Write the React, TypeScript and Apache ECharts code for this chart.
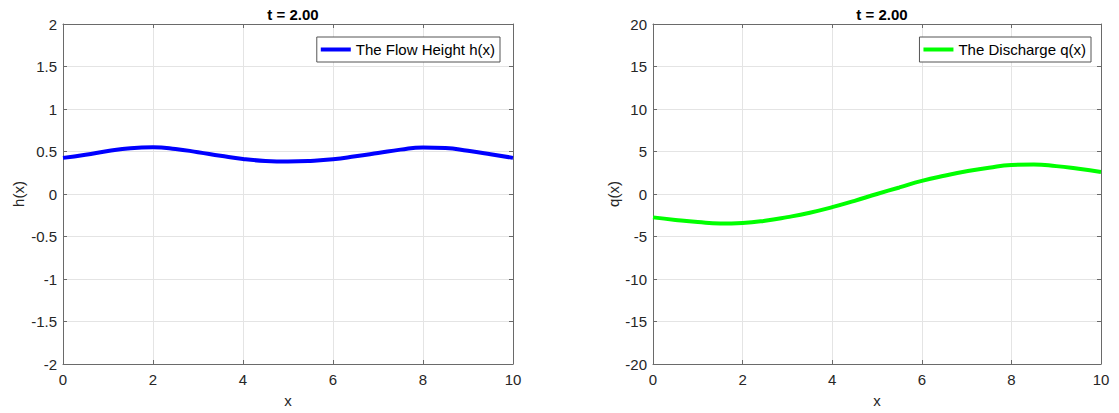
import React, { useEffect, useRef } from "react";
import * as echarts from "echarts";

const xs = [0, 0.5, 1, 1.5, 2, 2.5, 3, 3.5, 4, 4.5, 5, 5.5, 6, 6.5, 7, 7.5, 8, 8.5, 9, 9.5, 10];
const hValues = [0.425, 0.462, 0.505, 0.538, 0.549, 0.53, 0.492, 0.45, 0.412, 0.389, 0.382, 0.389, 0.408, 0.443, 0.482, 0.522, 0.548, 0.542, 0.508, 0.468, 0.425];
const qValues = [-2.75, -3.05, -3.3, -3.46, -3.4, -3.15, -2.72, -2.2, -1.55, -0.8, 0, 0.77, 1.54, 2.15, 2.67, 3.1, 3.42, 3.48, 3.28, 2.96, 2.6];
const titleText = "t = 2.00";
const hName = "The Flow Height h(x)";
const qName = "The Discharge q(x)";

const FONT = "'Liberation Sans', Arial, Helvetica, sans-serif";
const TXT = "#262626";
const AX = "#6a6a6a";
const FS = 15;

function xAxes(gridIndex: number) {
  const base = {
    type: "value",
    gridIndex,
    min: 0,
    max: 10,
    interval: 2,
    axisLine: { show: true, onZero: false, lineStyle: { color: AX, width: 1 } },
    axisTick: { show: true, inside: true, length: 4, lineStyle: { color: AX } },
  };
  return [
    {
      ...base,
      position: "bottom",
      name: "x",
      nameLocation: "middle",
      nameGap: 29,
      nameTextStyle: { color: TXT, fontSize: FS, fontFamily: FONT },
      axisLabel: { color: TXT, fontSize: FS, fontFamily: FONT, margin: 8 },
      splitLine: { show: true, lineStyle: { color: "#e4e4e4", width: 1 } },
    },
    {
      ...base,
      position: "top",
      axisLabel: { show: false },
      splitLine: { show: false },
    },
  ];
}

function yAxes(gridIndex: number, min: number, max: number, interval: number, name: string, nameGap: number) {
  const base = {
    type: "value",
    gridIndex,
    min,
    max,
    interval,
    axisLine: { show: true, onZero: false, lineStyle: { color: AX, width: 1 } },
    axisTick: { show: true, inside: true, length: 4, lineStyle: { color: AX } },
  };
  return [
    {
      ...base,
      position: "left",
      name,
      nameLocation: "middle",
      nameGap,
      nameTextStyle: { color: TXT, fontSize: FS, fontFamily: FONT },
      axisLabel: { color: TXT, fontSize: FS, fontFamily: FONT, margin: 6 },
      splitLine: { show: true, lineStyle: { color: "#e4e4e4", width: 1 } },
    },
    {
      ...base,
      position: "right",
      axisLabel: { show: false },
      splitLine: { show: false },
    },
  ];
}

export default function App() {
  const ref = useRef<HTMLDivElement>(null);
  useEffect(() => {
    if (!ref.current) return;
    const chart = echarts.init(ref.current, undefined, { renderer: "svg" });
    const hData = xs.map((x, i) => [x, hValues[i]]);
    const qData = xs.map((x, i) => [x, qValues[i]]);
    const legendCommon = {
      top: 37,
      orient: "horizontal",
      itemWidth: 30,
      itemHeight: 4,
      itemGap: 5,
      icon: "rect",
      padding: [5, 5, 5, 4],
      backgroundColor: "#fff",
      borderColor: "#555",
      borderWidth: 1,
      borderRadius: 0,
      textStyle: { color: "#000", fontSize: FS, fontFamily: FONT },
    };
    chart.setOption({
      animation: false,
      backgroundColor: "#fff",
      title: [
        {
          text: titleText,
          left: 288,
          top: 2,
          textAlign: "center",
          textStyle: { fontSize: FS, fontWeight: "bold", color: "#000", fontFamily: FONT },
        },
        {
          text: titleText,
          left: 877,
          top: 2,
          textAlign: "center",
          textStyle: { fontSize: FS, fontWeight: "bold", color: "#000", fontFamily: FONT },
        },
      ],
      legend: [
        { ...legendCommon, right: 619, data: [hName] },
        { ...legendCommon, right: 28, data: [qName] },
      ],
      grid: [
        { left: 63, top: 24, width: 450, height: 342 },
        { left: 653, top: 24, width: 448, height: 342 },
      ],
      xAxis: [...xAxes(0), ...xAxes(1)],
      yAxis: [...yAxes(0, -2, 2, 0.5, "h(x)", 37), ...yAxes(1, -20, 20, 5, "q(x)", 29)],
      series: [
        {
          name: hName,
          type: "line",
          xAxisIndex: 0,
          yAxisIndex: 0,
          data: hData,
          showSymbol: false,
          smooth: 0.5,
          lineStyle: { color: "#0000ff", width: 4 },
          itemStyle: { color: "#0000ff" },
        },
        {
          name: qName,
          type: "line",
          xAxisIndex: 2,
          yAxisIndex: 2,
          data: qData,
          showSymbol: false,
          smooth: 0.5,
          lineStyle: { color: "#00ff00", width: 4 },
          itemStyle: { color: "#00ff00" },
        },
      ],
    });
    return () => chart.dispose();
  }, []);
  return (
    <div
      ref={ref}
      style={{ position: "fixed", left: 0, top: 0, width: 1119, height: 413, background: "#fff" }}
    />
  );
}
